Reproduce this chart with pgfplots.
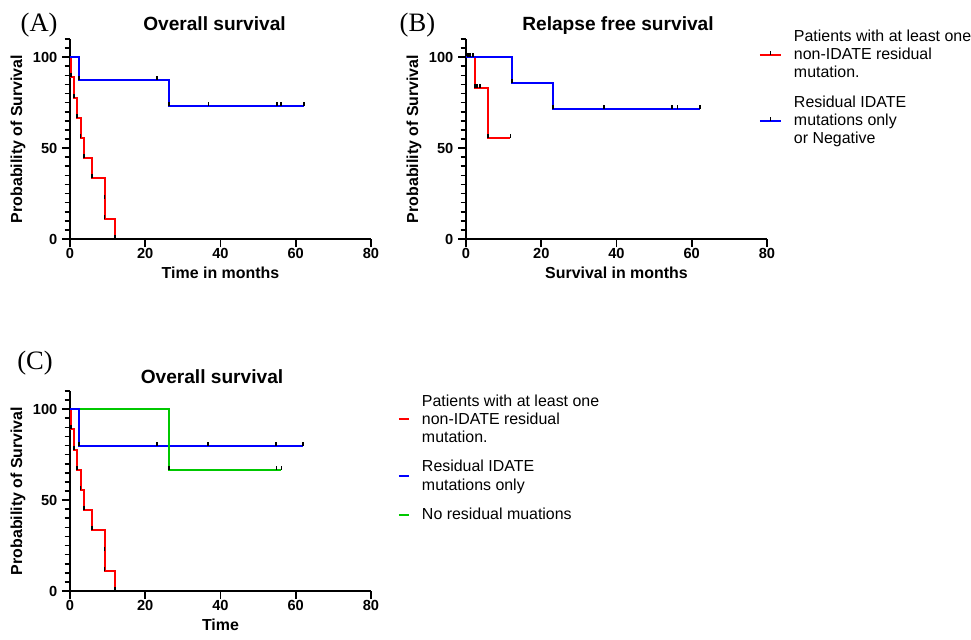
\documentclass[border=0pt]{standalone}
\usepackage{fontspec}
\setmainfont{Liberation Sans}
\newfontfamily\timesfont{Liberation Serif}
\usepackage{pgfplots}
\pgfplotsset{compat=1.18}
\pgfdeclareplotmark{cens}{\pgfpathmoveto{\pgfpointorigin}\pgfpathlineto{\pgfpoint{0pt}{\pgfplotmarksize}}\pgfusepathqstroke}
\definecolor{kmred}{RGB}{255,0,0}
\definecolor{kmblue}{RGB}{0,0,255}
\definecolor{kmgreen}{RGB}{0,200,0}
\pgfplotsset{
  kmaxis/.style={
    scale only axis, width=225.75bp, height=150bp,
    xmin=0, xmax=80, ymin=0, ymax=110,
    axis lines=left, axis line style={-, line width=1.5bp, black},
    xtick={0,20,...,80}, ytick={0,50,100},
    minor ytick={5,10,...,45,55,60,...,95,105,110},
    tick align=outside, major tick length=6bp, minor tick length=4bp,
    tick style={black, line width=1.2bp},
    tick label style={font=\fontsize{11}{13}\selectfont\bfseries},
    /pgf/number format/assume math mode=true,
    xticklabel style={inner sep=0.5bp},
    label style={font=\fontsize{12}{14}\selectfont\bfseries},
    xlabel style={at={(axis description cs:0.5,0)}, anchor=center, yshift=-25.5bp},
    ylabel style={at={(axis description cs:-0.1728,0.5)}, anchor=center},
    clip=false,
    legend cell align=left,
  },
  stepline/.style={const plot, line width=1.5bp, mark=none},
  censmarks/.style={only marks, draw=none, mark=cens, mark size=3bp,
    mark options={draw=black, solid, line width=1.3bp}, forget plot},
}
\begin{document}
\begin{tikzpicture}[x=0.75bp, y=-0.75bp]
\useasboundingbox (0,0) rectangle (971,640);

% ---------- (A) ----------
\node[anchor=base west, font=\timesfont\fontsize{20}{22}\selectfont] at (16,31.7) {(A)};
\node[anchor=base, font=\fontsize{14.4}{16}\selectfont\bfseries] at (214.5,30.7) {Overall survival};
\begin{axis}[kmaxis, at={(52.5bp,-179.25bp)}, anchor=south west,
  xlabel={Time in months}, ylabel={Probability of Survival}]
\addplot[stepline, draw=kmred] coordinates {(0,100) (0.2,88.9) (1.1,77.8) (1.8,66.7) (2.8,55.6) (3.8,44.4) (5.9,33.3) (9.2,11.1) (11.9,0)};
\addplot[censmarks] coordinates {(0.2,88.9) (1.1,77.8) (1.8,66.7) (2.8,55.6) (3.8,44.4) (5.9,33.3) (9.2,22.2) (9.2,11.1) (11.9,0)};
\addplot[stepline, draw=kmblue] coordinates {(0,100) (2.4,87.5) (26.4,72.9) (62.2,72.9)};
\addplot[censmarks] coordinates {(2.4,87.5) (23.1,87.5) (26.4,72.9) (36.8,72.9) (55.1,72.9) (56.1,72.9) (62.2,72.9)};
\end{axis}

% ---------- (B) ----------
\node[anchor=base west, font=\timesfont\fontsize{20}{22}\selectfont] at (395,31.7) {(B)};
\node[anchor=base, font=\fontsize{14.4}{16}\selectfont\bfseries] at (618,30.7) {Relapse free survival};
\begin{axis}[kmaxis, at={(349.5bp,-179.25bp)}, anchor=south west,
  xlabel={Survival in months}, ylabel={Probability of Survival},
  legend style={at={(axis description cs:1,1)}, anchor=north west, xshift=-6bp, yshift=7bp,
    draw=none, fill=none, inner sep=0pt, outer sep=0pt, row sep=12bp, column sep=9bp,
    nodes={inner sep=0pt, font=\fontsize{12}{13.7}\selectfont}, cells={align=left}},
  legend image code/.code={\draw[#1, line width=1.5bp] (0bp,0bp) -- (15.75bp,0bp);
     \draw[black, line width=1.3bp] (7.9bp,0bp) -- (7.9bp,3bp);}]
\addplot[stepline, draw=kmred] coordinates {(0,100) (2.4,83.3) (5.8,55.6) (11.8,55.6)};
\addlegendentry{Patients with at least one\\non-IDATE residual\\mutation.}
\addplot[censmarks] coordinates {(2.4,83.3) (2.9,83.3) (3.7,83.3) (5.8,55.6) (11.8,55.6)};
\addplot[stepline, draw=kmblue] coordinates {(0,100) (12.2,85.7) (23.2,71.4) (62.2,71.4)};
\addlegendentry{Residual IDATE\\mutations only\\or Negative}
\addplot[censmarks] coordinates {(0.5,100) (1.1,100) (1.9,100) (12.2,85.7) (23.2,71.4) (36.7,71.4) (54.8,71.4) (56.2,71.4) (62.2,71.4)};
\end{axis}

% ---------- (C) ----------
\node[anchor=base west, font=\timesfont\fontsize{20}{22}\selectfont] at (12.7,369.3) {(C)};
\node[anchor=base, font=\fontsize{14.4}{16}\selectfont\bfseries] at (212,383.3) {Overall survival};
\begin{axis}[kmaxis, at={(52.5bp,-443.25bp)}, anchor=south west,
  xlabel={Time}, ylabel={Probability of Survival},
  legend style={at={(axis description cs:1,1)}, anchor=north west, xshift=20.25bp, yshift=-2.6bp,
    draw=none, fill=none, inner sep=0pt, outer sep=0pt, row sep=12bp, column sep=9bp,
    nodes={inner sep=0pt, font=\fontsize{12}{13.7}\selectfont}, cells={align=left}},
  legend image code/.code={\draw[#1, line width=1.5bp] (0bp,0bp) -- (7.5bp,0bp);}]
\addplot[stepline, draw=kmred] coordinates {(0,100) (0.2,88.9) (1.1,77.8) (1.8,66.7) (2.8,55.6) (3.8,44.4) (5.9,33.3) (9.2,11.1) (11.9,0)};
\addlegendentry{Patients with at least one\\non-IDATE residual\\mutation.}
\addplot[censmarks] coordinates {(0.2,88.9) (1.1,77.8) (1.8,66.7) (2.8,55.6) (3.8,44.4) (5.9,33.3) (9.2,22.2) (9.2,11.1) (11.9,0)};
\addplot[stepline, draw=kmblue] coordinates {(0,100) (2.4,80) (62,80)};
\addlegendentry{Residual IDATE\\mutations only}
\addplot[censmarks] coordinates {(2.4,80) (23.1,80) (36.6,80) (54.8,80) (62,80)};
\addplot[stepline, draw=kmgreen] coordinates {(0,100) (26.4,66.7) (56.2,66.7)};
\addlegendentry{No residual muations}
\addplot[censmarks] coordinates {(26.4,66.7) (54.9,66.7) (56.2,66.7)};
\addplot[stepline, draw=kmblue, forget plot] coordinates {(0,100) (2.4,80)};
\end{axis}
\end{tikzpicture}
\end{document}
